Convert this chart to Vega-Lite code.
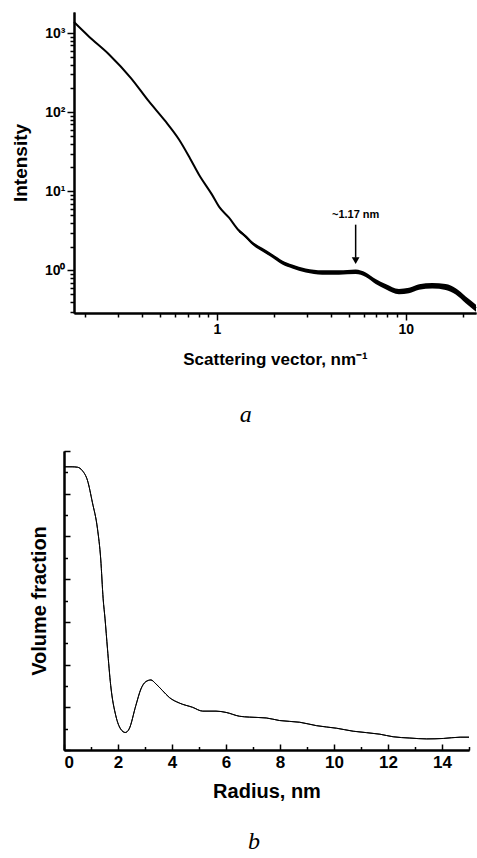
{
  "$schema": "https://vega.github.io/schema/vega-lite/v6.json",
  "background": "white",
  "padding": {"left": 11, "top": 12, "right": 0, "bottom": 0},
  "autosize": {"type": "pad"},
  "datasets": {
    "curve": [
      {"q": 0.1747, "I": 1377}, {"q": 0.21, "I": 900}, {"q": 0.268, "I": 537}, {"q": 0.35, "I": 270}, {"q": 0.436, "I": 136.5}, {"q": 0.53, "I": 78}, {"q": 0.629, "I": 45.1},
      {"q": 0.72, "I": 26}, {"q": 0.803, "I": 16.2}, {"q": 0.941, "I": 9.08}, {"q": 1.025, "I": 6.4}, {"q": 1.158, "I": 4.64},
      {"q": 1.308, "I": 3.18}, {"q": 1.419, "I": 2.69}, {"q": 1.538, "I": 2.22}, {"q": 1.738, "I": 1.83},
      {"q": 1.963, "I": 1.535}, {"q": 2.218, "I": 1.262}, {"q": 2.506, "I": 1.124}, {"q": 2.951, "I": 1.0},
      {"q": 3.614, "I": 0.943}, {"q": 4.43, "I": 0.943}, {"q": 5.43, "I": 0.963}, {"q": 6.14, "I": 0.882},
      {"q": 6.93, "I": 0.726}, {"q": 7.83, "I": 0.627}, {"q": 9.21, "I": 0.542}, {"q": 10.41, "I": 0.558},
      {"q": 11.77, "I": 0.617}, {"q": 13.84, "I": 0.64}, {"q": 16.29, "I": 0.617}, {"q": 18.41, "I": 0.542},
      {"q": 20.8, "I": 0.426}, {"q": 23.58, "I": 0.334}
    ],
    "band": [
      {"q": 1.308, "lo": 3.05, "hi": 3.31}, {"q": 1.419, "lo": 2.57, "hi": 2.81}, {"q": 1.538, "lo": 2.11, "hi": 2.33},
      {"q": 1.738, "lo": 1.73, "hi": 1.93}, {"q": 1.963, "lo": 1.45, "hi": 1.62}, {"q": 2.218, "lo": 1.19, "hi": 1.34},
      {"q": 2.506, "lo": 1.06, "hi": 1.19}, {"q": 2.951, "lo": 0.94, "hi": 1.06}, {"q": 3.614, "lo": 0.885, "hi": 1.005},
      {"q": 4.43, "lo": 0.885, "hi": 1.005}, {"q": 5.43, "lo": 0.9, "hi": 1.03}, {"q": 6.14, "lo": 0.825, "hi": 0.945},
      {"q": 6.93, "lo": 0.675, "hi": 0.78}, {"q": 7.83, "lo": 0.58, "hi": 0.675}, {"q": 9.21, "lo": 0.5, "hi": 0.585},
      {"q": 10.41, "lo": 0.515, "hi": 0.605}, {"q": 11.77, "lo": 0.57, "hi": 0.67}, {"q": 13.84, "lo": 0.59, "hi": 0.695},
      {"q": 16.29, "lo": 0.565, "hi": 0.675}, {"q": 18.41, "lo": 0.495, "hi": 0.595}, {"q": 20.8, "lo": 0.385, "hi": 0.47},
      {"q": 23.58, "lo": 0.3, "hi": 0.37}
    ],
    "arrow": [{"q": 5.43, "top": 3.79, "bottom": 1.45, "head": 1.33, "labelI": 5.07, "label": "~1.17 nm"}],
    "dist": [
      {"r": 0, "v": 6.63}, {"r": 0.3, "v": 6.63}, {"r": 0.5, "v": 6.62}, {"r": 0.68, "v": 6.54}, {"r": 0.87, "v": 6.31},
      {"r": 1.05, "v": 5.8}, {"r": 1.24, "v": 5.18}, {"r": 1.36, "v": 4.47}, {"r": 1.45, "v": 3.54}, {"r": 1.52, "v": 3.07},
      {"r": 1.61, "v": 2.37}, {"r": 1.73, "v": 1.51}, {"r": 1.92, "v": 0.8}, {"r": 2.1, "v": 0.49}, {"r": 2.27, "v": 0.41},
      {"r": 2.41, "v": 0.49}, {"r": 2.66, "v": 1.04}, {"r": 2.85, "v": 1.43}, {"r": 3.03, "v": 1.6}, {"r": 3.22, "v": 1.64},
      {"r": 3.4, "v": 1.55}, {"r": 3.65, "v": 1.39}, {"r": 3.9, "v": 1.23}, {"r": 4.27, "v": 1.1}, {"r": 4.76, "v": 1.0},
      {"r": 5.14, "v": 0.91}, {"r": 5.63, "v": 0.91}, {"r": 6.0, "v": 0.88}, {"r": 6.5, "v": 0.79}, {"r": 6.87, "v": 0.77},
      {"r": 7.49, "v": 0.75}, {"r": 7.98, "v": 0.69}, {"r": 8.73, "v": 0.65}, {"r": 9.35, "v": 0.57}, {"r": 10.09, "v": 0.51},
      {"r": 10.71, "v": 0.44}, {"r": 11.7, "v": 0.37}, {"r": 12.19, "v": 0.31}, {"r": 12.81, "v": 0.28}, {"r": 13.43, "v": 0.26},
      {"r": 14.05, "v": 0.27}, {"r": 14.67, "v": 0.3}, {"r": 15.0, "v": 0.3}
    ]
  },
  "spacing": 23,
  "vconcat": [
    {
      "width": 402,
      "height": 301,
      "title": {"text": "a", "orient": "bottom", "anchor": "middle", "frame": "bounds", "font": "Liberation Serif", "fontStyle": "italic", "fontWeight": "normal", "fontSize": 24, "offset": 36, "color": "black"},
      "layer": [
        {
          "data": {"name": "curve"},
          "mark": {"type": "line", "color": "black", "strokeWidth": 2, "interpolate": "monotone"},
          "encoding": {
            "x": {"field": "q", "type": "quantitative",
              "scale": {"type": "log", "domain": [0.1747, 23.58], "nice": false},
              "axis": {"orient": "bottom", "values": [1, 10], "tickSize": 7, "labelPadding": 2, "labelFontSize": 14, "format": "d",
                "title": "Scattering vector, nm⁻¹", "titleFontSize": 17, "titlePadding": 15}},
            "y": {"field": "I", "type": "quantitative",
              "scale": {"type": "log", "domain": [0.29, 1845], "nice": false},
              "axis": {"orient": "left", "values": [1, 10, 100, 1000], "tickSize": 7, "labelPadding": 2, "labelFontSize": 14,
                "labelExpr": "datum.value > 500 ? '10³' : datum.value > 50 ? '10²' : datum.value > 5 ? '10¹' : '10⁰'",
                "title": "Intensity", "titleFontSize": 19, "titlePadding": 14}}
          }
        },
        {
          "data": {"name": "band"},
          "mark": {"type": "area", "color": "black", "interpolate": "monotone"},
          "encoding": {
            "x": {"field": "q", "type": "quantitative",
              "axis": {"orient": "bottom", "values": [0.2, 0.3, 0.4, 0.5, 0.6, 0.7, 0.8, 0.9, 2, 3, 4, 5, 6, 7, 8, 9, 20], "tickSize": 4, "labels": false, "title": null}},
            "y": {"field": "lo", "type": "quantitative",
              "axis": {"orient": "left", "values": [0.3, 0.4, 0.5, 0.6, 0.7, 0.8, 0.9, 2, 3, 4, 5, 6, 7, 8, 9, 20, 30, 40, 50, 60, 70, 80, 90, 200, 300, 400, 500, 600, 700, 800, 900], "tickSize": 4, "labels": false, "title": null}},
            "y2": {"field": "hi"}
          }
        },
        {
          "data": {"name": "arrow"},
          "mark": {"type": "rule", "color": "black", "strokeWidth": 1.5},
          "encoding": {
            "x": {"field": "q", "type": "quantitative", "axis": null},
            "y": {"field": "top", "type": "quantitative", "axis": null},
            "y2": {"field": "bottom"}
          }
        },
        {
          "data": {"name": "arrow"},
          "mark": {"type": "point", "shape": "triangle-down", "filled": true, "color": "black", "size": 60, "opacity": 1},
          "encoding": {
            "x": {"field": "q", "type": "quantitative", "axis": null},
            "y": {"field": "head", "type": "quantitative", "axis": null}
          }
        },
        {
          "data": {"name": "arrow"},
          "mark": {"type": "text", "color": "black", "font": "Liberation Sans", "fontWeight": "bold", "fontSize": 11, "align": "center", "baseline": "middle"},
          "encoding": {
            "x": {"field": "q", "type": "quantitative", "axis": null},
            "y": {"field": "labelI", "type": "quantitative", "axis": null},
            "text": {"field": "label"}
          }
        }
      ],
      "resolve": {"axis": {"x": "independent", "y": "independent"}}
    },
    {
      "width": 395,
      "height": 299,
      "title": {"text": "b", "orient": "bottom", "anchor": "middle", "frame": "bounds", "font": "Liberation Serif", "fontStyle": "italic", "fontWeight": "normal", "fontSize": 24, "offset": 29, "color": "black"},
      "data": {"name": "dist"},
      "layer": [
        {
          "mark": {"type": "line", "color": "black", "strokeWidth": 1, "interpolate": "monotone"},
          "encoding": {
            "x": {"field": "r", "type": "quantitative", "scale": {"domain": [0, 15], "nice": false, "range": [-10, 395]},
              "axis": {"orient": "bottom", "values": [0, 2, 4, 6, 8, 10, 12, 14], "tickSize": -6, "labelPadding": 10, "labelFontSize": 17,
                "title": "Radius, nm", "titleFontSize": 20, "titlePadding": 11}},
            "y": {"field": "v", "type": "quantitative", "scale": {"domain": [0, 7], "nice": false},
              "axis": {"orient": "left", "offset": 10, "values": [0, 1, 2, 3, 4, 5, 6, 7], "tickSize": -6, "labels": false,
                "title": "Volume fraction", "titleFontSize": 20, "titleX": -15}}
          }
        },
        {
          "mark": {"type": "line", "color": "black", "strokeWidth": 1, "interpolate": "monotone"},
          "encoding": {
            "x": {"field": "r", "type": "quantitative",
              "axis": {"orient": "bottom", "values": [1, 3, 5, 7, 9, 11, 13, 15], "tickSize": -3.5, "labels": false, "title": null}},
            "y": {"field": "v", "type": "quantitative",
              "axis": {"orient": "left", "offset": 10, "values": [0.5, 1.5, 2.5, 3.5, 4.5, 5.5, 6.5], "tickSize": -3.5, "labels": false, "title": null}}
          }
        }
      ],
      "resolve": {"axis": {"x": "independent", "y": "independent"}}
    }
  ],
  "config": {
    "view": {"stroke": null},
    "axis": {
      "domainColor": "black", "domainWidth": 2, "tickColor": "black", "tickWidth": 1.5,
      "labelColor": "black", "titleColor": "black", "labelFont": "Liberation Sans", "titleFont": "Liberation Sans",
      "labelFontWeight": "bold", "titleFontWeight": "bold", "grid": false
    }
  }
}
